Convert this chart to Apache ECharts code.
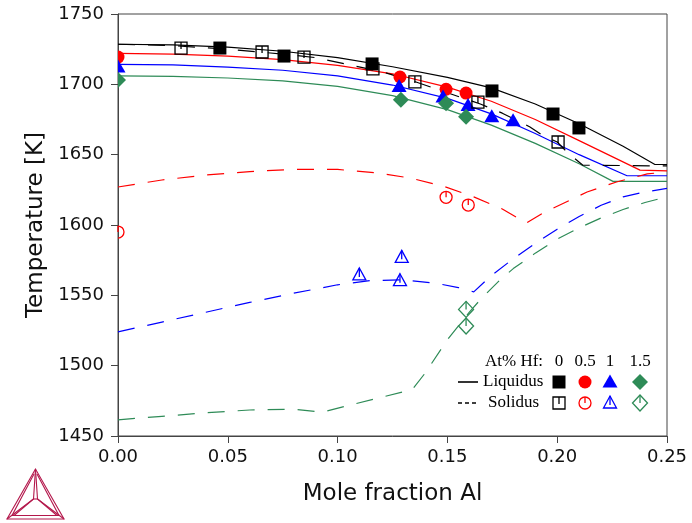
<!DOCTYPE html>
<html><head><meta charset="utf-8">
<script src="https://cdn.jsdelivr.net/npm/echarts@6/dist/echarts.min.js"></script>
<style>html,body{margin:0;padding:0;background:#fff}#c{width:692px;height:523px}</style>
</head><body><div id="c"></div>
<script>
// ---------- Liquidus curves (solid) ----------
const liq0X = [0,0.025,0.05,0.075,0.1,0.125,0.15,0.17,0.19,0.21,0.23,0.2445,0.25];
const liq0T = [1728.5,1728,1726.5,1723.5,1719,1712.5,1705,1697.5,1686,1672,1656,1643,1643];
const liq05X = [0,0.025,0.05,0.075,0.1,0.125,0.15,0.17,0.19,0.21,0.2377,0.25];
const liq05T = [1722,1721.5,1720,1717.5,1713.5,1707.5,1698,1688,1675,1660,1639,1638.5];
const liq1X = [0,0.025,0.05,0.075,0.1,0.125,0.15,0.17,0.19,0.21,0.2318,0.25];
const liq1T = [1714.2,1713.8,1712.3,1710,1706,1699.5,1690,1679,1665,1650,1635,1635];
const liq15X = [0,0.025,0.05,0.075,0.1,0.125,0.15,0.17,0.19,0.21,0.2254,0.25];
const liq15T = [1706,1705.7,1704.5,1702.5,1698.5,1692,1682,1671,1658,1643.5,1631,1631];
// ---------- Solidus curves (dashed) ----------
const sol0X = [0,0.025,0.05,0.075,0.09,0.105,0.12,0.135,0.15,0.165,0.175,0.1876,0.193,0.2,0.205,0.2117,0.25];
const sol0T = [1728.5,1727.5,1725,1721.5,1719,1714,1709,1702,1694,1686,1679.5,1669.7,1664,1659,1651,1642.5,1642];
const sol05X = [0,0.02,0.04,0.06,0.08,0.1,0.118,0.133,0.148,0.162,0.175,0.186,0.1936,0.2136,0.227,0.241,0.25];
const sol05T = [1627,1632,1635.5,1638,1639.5,1639.5,1637,1633.4,1627.7,1620,1611.4,1601.4,1608.5,1623.5,1630.6,1636.3,1637.7];
const sol1X = [0,0.02,0.04,0.06,0.08,0.1,0.115,0.13,0.145,0.155,0.162,0.17,0.18,0.19,0.2,0.21,0.22,0.23,0.24,0.25];
const sol1T = [1524,1531,1538,1545,1551.5,1557.5,1560.5,1561,1558.5,1555.5,1552.5,1564,1576,1587,1597,1606,1614,1620,1623.5,1626];
const sol15X = [0,0.02,0.04,0.06,0.08,0.093,0.134,0.14,0.15,0.16,0.1656,0.174,0.18,0.19,0.2,0.21,0.22,0.23,0.24,0.25];
const sol15T = [1461.5,1464,1466.5,1468.5,1469,1467,1483,1495,1518.5,1538,1548,1561,1569,1580,1590,1598,1605,1611,1616,1620];
// ---------- Experimental points ----------
const liqPt0X = [0.0464,0.0756,0.1157,0.1703,0.1981,0.2099];
const liqPt0T = [1725.8,1720.1,1714.5,1695.3,1678.9,1669];
const liqPt05X = [0,0.1284,0.1494,0.1585];
const liqPt05T = [1719.4,1705.2,1696.5,1693.8];
const liqPt1X = [0,0.128,0.148,0.1594,0.1702,0.1799];
const liqPt1T = [1712.3,1698.5,1691,1685,1677,1674.2];
const liqPt15X = [0,0.1288,0.1494,0.1585];
const liqPt15T = [1703,1689,1686.5,1677];
const solPt0X = [0.0287,0.0656,0.0847,0.1161,0.1352,0.1639,0.2004];
const solPt0T = [1725.8,1723,1719.4,1711,1701.7,1687.4,1659];
const solPt05X = [0,0.1494,0.1595];
const solPt05T = [1595,1619.7,1614.2];
const solPt1X = [0.1099,0.1292,0.1284];
const solPt1T = [1564.5,1577,1560.4];
const solPt15X = [0.1585,0.1585];
const solPt15T = [1540,1528.2];
// ---------- Axis ticks / labels ----------
const xTicks = [0,0.05,0.1,0.15,0.2,0.25];
const yTicks = [1450,1500,1550,1600,1650,1700,1750];
const hfLevels = ['0','0.5','1','1.5'];

const BLACK='#000000', RED='#ff0000', BLUE='#0000ff', GREEN='#2e8b57';
const zip = (xs, ts) => xs.map((x,i)=>[x, ts[i]]);

function lineSeries(xs, ts, color, dashed){
  return {type:'line', data: zip(xs,ts), symbol:'none', silent:true, z:2,
    lineStyle:{color, width:1.2, type: dashed ? [17,13] : 'solid'}, animation:false};
}

// clip a polygon to x >= xmin (Sutherland-Hodgman, single edge)
function clipLeft(pts, xmin){
  if (xmin == null) return pts;
  const out = [];
  for (let i=0;i<pts.length;i++){
    const a = pts[i], b = pts[(i+1)%pts.length];
    const ain = a[0] >= xmin, bin = b[0] >= xmin;
    if (ain) out.push(a);
    if (ain !== bin){
      const t = (xmin - a[0])/(b[0]-a[0]);
      out.push([xmin, a[1] + t*(b[1]-a[1])]);
    }
  }
  return out;
}

function shape(kind, cx, cy, color, xmin){
  const lw = 1.3;
  const os = {fill:'none', stroke:color, lineWidth:lw};
  const half = xmin != null && cx - 8 < xmin;
  const poly = (pts, style) => ({type:'polygon', shape:{points:clipLeft(pts, xmin)}, style});
  const circ = (r, style) => half
    ? (style.fill === 'none'
        ? {type:'arc', shape:{cx,cy,r,startAngle:-Math.PI/2,endAngle:Math.PI/2}, style}
        : {type:'sector', shape:{cx,cy,r,r0:0,startAngle:-Math.PI/2,endAngle:Math.PI/2}, style})
    : {type:'circle', shape:{cx,cy,r}, style};
  switch(kind){
    case 'sqF': return poly([[cx-6.5,cy-6.5],[cx+6.5,cy-6.5],[cx+6.5,cy+6.5],[cx-6.5,cy+6.5]], {fill:color});
    case 'ciF': return circ(6.5, {fill:color});
    case 'trF': return poly([[cx,cy-7.5],[cx+7.5,cy+5.5],[cx-7.5,cy+5.5]], {fill:color});
    case 'diF': return poly([[cx,cy-8],[cx+8,cy],[cx,cy+8],[cx-8,cy]], {fill:color});
    case 'sqO': return {type:'group', children:[
      poly([[cx-6,cy-6],[cx+6,cy-6],[cx+6,cy+6],[cx-6,cy+6]], os),
      {type:'line', shape:{x1:cx,y1:cy-6,x2:cx,y2:cy+1}, style:{stroke:color,lineWidth:lw}}]};
    case 'ciO': return {type:'group', children:[
      circ(6, os),
      {type:'line', shape:{x1:cx,y1:cy-6,x2:cx,y2:cy}, style:{stroke:color,lineWidth:lw}}]};
    case 'trO': return {type:'group', children:[
      poly([[cx,cy-7],[cx+6.5,cy+5],[cx-6.5,cy+5]], os),
      {type:'line', shape:{x1:cx,y1:cy-7,x2:cx,y2:cy+2}, style:{stroke:color,lineWidth:lw}}]};
    case 'diO': return {type:'group', children:[
      poly([[cx,cy-8],[cx+7.5,cy],[cx,cy+8],[cx-7.5,cy]], os),
      {type:'line', shape:{x1:cx,y1:cy-8,x2:cx,y2:cy}, style:{stroke:color,lineWidth:lw}}]};
  }
}

function markerSeries(xs, ts, kind, color){
  return {type:'custom', z:5, silent:true, animation:false,
    data: zip(xs,ts), encode:{x:0,y:1},
    renderItem:(params, api)=>{
      const p = api.coord([api.value(0), api.value(1)]);
      const left = api.coord([xTicks[0], yTicks[0]])[0];
      return shape(kind, p[0], p[1], color, left);
    }};
}

// legend graphics (fixed layout)
const LEG = {colX:[559,585,610,640], yHead:362, yLiq:382, ySol:403};
const legendColors = [BLACK,RED,BLUE,GREEN];
const legendGraphic = [];
const serif = '17px "Liberation Serif", "Times New Roman", serif';
legendGraphic.push({type:'text', x:485, y:LEG.yHead, style:{text:'At% Hf:', font:serif, fill:'#000', verticalAlign:'middle'}});
hfLevels.forEach((t,i)=>legendGraphic.push({type:'text', x:LEG.colX[i], y:LEG.yHead, style:{text:t, font:serif, fill:'#000', align:'center', verticalAlign:'middle'}}));
legendGraphic.push({type:'line', shape:{x1:458,y1:LEG.yLiq,x2:478,y2:LEG.yLiq}, style:{stroke:'#000',lineWidth:1.6}});
legendGraphic.push({type:'text', x:483, y:LEG.yLiq, style:{text:'Liquidus', font:serif, fill:'#000', verticalAlign:'middle'}});
legendGraphic.push({type:'line', shape:{x1:458,y1:LEG.ySol,x2:478,y2:LEG.ySol}, style:{stroke:'#000',lineWidth:1.6,lineDash:[4,3]}});
legendGraphic.push({type:'text', x:488, y:LEG.ySol, style:{text:'Solidus', font:serif, fill:'#000', verticalAlign:'middle'}});
['sqF','ciF','trF','diF'].forEach((k,i)=>legendGraphic.push(shape(k, LEG.colX[i], LEG.yLiq, legendColors[i])));
['sqO','ciO','trO','diO'].forEach((k,i)=>legendGraphic.push(shape(k, LEG.colX[i], LEG.ySol, legendColors[i])));

// logo
const LC = '#b3174b';
const lst = {stroke:LC, lineWidth:1.1, fill:'none'};
const logo = {type:'group', silent:true, children:[
  {type:'polygon', shape:{points:[[35.5,469],[7,519],[64,519]]}, style:lst},
  {type:'polyline', shape:{points:[[34,474],[12,515.5],[59,515.5],[37,474]]}, style:lst},
  {type:'polyline', shape:{points:[[35.5,469],[33.5,499],[7,519]]}, style:lst},
  {type:'polyline', shape:{points:[[35.5,469],[37.5,499],[64,519]]}, style:lst},
  {type:'polyline', shape:{points:[[33.5,499],[37.5,499]]}, style:lst},
  {type:'polyline', shape:{points:[[33.5,499],[14,515.5]]}, style:lst},
  {type:'polyline', shape:{points:[[37.5,499],[57,515.5]]}, style:lst}
]};

const axisCommon = {
  axisLine:{show:true, lineStyle:{color:'#444', width:1}},
  axisTick:{show:true, inside:false, length:7, lineStyle:{color:'#444'}},
  splitLine:{show:false},
  nameTextStyle:{fontFamily:'DejaVu Sans', fontSize:23, color:'#111'}
};

const chart = echarts.init(document.getElementById('c'), null, {renderer:'canvas'});
chart.setOption({
  animation:false,
  backgroundColor:'#fff',
  grid:{left:118, right:25, top:14, bottom:87, show:true, borderColor:'#444', borderWidth:1},
  xAxis:Object.assign({type:'value', min:xTicks[0], max:xTicks[xTicks.length-1], interval:0.05,
    name:'Mole fraction Al', nameLocation:'middle', nameGap:47,
    axisLabel:{formatter:v=>v.toFixed(2), fontFamily:'DejaVu Sans', fontSize:18, color:'#111', margin:12}}, axisCommon),
  yAxis:Object.assign({type:'value', min:yTicks[0], max:yTicks[yTicks.length-1], interval:50,
    name:'Temperature [K]', nameLocation:'middle', nameGap:59,
    axisLabel:{formatter:v=>String(v), fontFamily:'DejaVu Sans', fontSize:18, color:'#111', margin:14}}, axisCommon),
  graphic:[...legendGraphic, logo],
  series:[
    lineSeries(liq0X, liq0T, BLACK, false),
    lineSeries(liq05X, liq05T, RED, false),
    lineSeries(liq1X, liq1T, BLUE, false),
    lineSeries(liq15X, liq15T, GREEN, false),
    lineSeries(sol0X, sol0T, BLACK, true),
    lineSeries(sol05X, sol05T, RED, true),
    lineSeries(sol1X, sol1T, BLUE, true),
    lineSeries(sol15X, sol15T, GREEN, true),
    markerSeries(liqPt0X, liqPt0T, 'sqF', BLACK),
    markerSeries(liqPt05X, liqPt05T, 'ciF', RED),
    markerSeries(liqPt1X, liqPt1T, 'trF', BLUE),
    markerSeries(liqPt15X, liqPt15T, 'diF', GREEN),
    markerSeries(solPt0X, solPt0T, 'sqO', BLACK),
    markerSeries(solPt05X, solPt05T, 'ciO', RED),
    markerSeries(solPt1X, solPt1T, 'trO', BLUE),
    markerSeries(solPt15X, solPt15T, 'diO', GREEN)
  ]
});
</script></body></html>
